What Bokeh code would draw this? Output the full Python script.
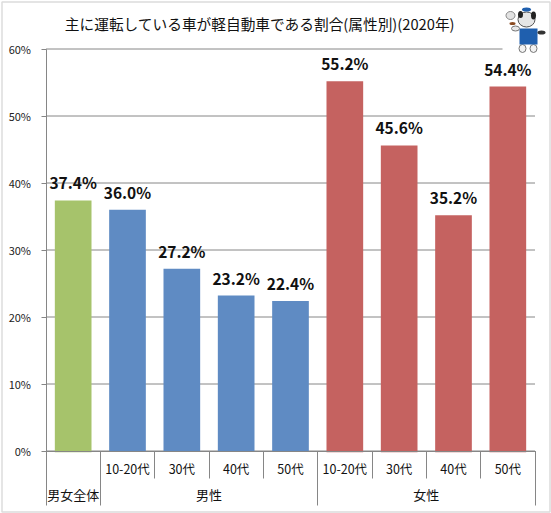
from bokeh.plotting import figure
from bokeh.embed import file_html
from bokeh.resources import INLINE
from bokeh.models import (ColumnDataSource, FixedTicker, LinearAxis, LabelSet, Label, Range1d, BoxAnnotation, PrintfTickFormatter)
from bokeh.core.properties import value

FONT = "Noto Sans CJK JP"
title_text = "主に運転している車が軽自動車である割合(属性別)(2020年)"
categories = ["", "10-20代", "30代", "40代", "50代", "10-20代", "30代", "40代", "50代"]
values = [37.4, 36.0, 27.2, 23.2, 22.4, 55.2, 45.6, 35.2, 54.4]
bar_base = [-0.2, 0, 0, 0, 0, -0.2, -0.2, -0.2, -0.2]
colors = ["#A6C36B", "#5F8BC3", "#5F8BC3", "#5F8BC3", "#5F8BC3", "#C56260", "#C56260", "#C56260", "#C56260"]
groups = ["男女全体", "男性", "女性"]
group_pos = [0.5, 3.0, 7.0]
y_ticks = [0, 10, 20, 30, 40, 50, 60]
GRAY = "#868686"

W, H = 551, 513
X0, X1, Y60, Y0 = 45.5, 534.5, 48.5, 450.5
ux = (X1 - X0) / 9
uy = (Y0 - Y60) / 60
px = lambda x: (x - X0) / ux
py = lambda y: (Y0 - y) / uy

p = figure(width=W, height=H, output_backend="svg", toolbar_location=None,
           x_range=Range1d(px(0), px(W)), y_range=Range1d(py(H), py(0)),
           min_border=0, outline_line_color=None, x_axis_type=None, y_axis_type=None)
p.border_fill_color = "white"
p.xgrid.visible = False
p.ygrid.visible = False

p.segment(x0=[0] * 7, x1=[9] * 7, y0=y_ticks, y1=y_ticks, line_color=GRAY, line_width=1)

src = ColumnDataSource(dict(x=[i + 0.5 for i in range(9)], v=values, b=bar_base, c=colors, cat=categories,
                            lab=[f"{v:.1f}%" for v in values]))
p.vbar(x="x", top="v", bottom="b", width=0.675, fill_color="c", line_color=None, source=src)

yax = LinearAxis(ticker=FixedTicker(ticks=y_ticks), formatter=PrintfTickFormatter(format="%d%%"),
                 fixed_location=0, bounds=(0, 60))
yax.axis_line_color = GRAY; yax.major_tick_line_color = GRAY
yax.major_tick_in = 0; yax.major_tick_out = 5; yax.minor_tick_line_color = None
yax.major_label_text_font = FONT; yax.major_label_text_font_size = "11px"; yax.major_label_text_color = "#222222"
yax.major_label_standoff = 10
p.add_layout(yax, "left")

def xaxis(ticks, out, labels=None, standoff=0, size="11px"):
    ax = LinearAxis(ticker=FixedTicker(ticks=ticks), fixed_location=0, bounds=(0, 9))
    ax.axis_line_color = GRAY
    ax.major_tick_line_color = GRAY if out else None
    ax.major_tick_in = 0; ax.major_tick_out = out; ax.minor_tick_line_color = None
    ax.major_label_text_font = FONT; ax.major_label_text_font_size = size; ax.major_label_text_color = "#111111"
    ax.major_label_standoff = standoff
    ax.major_label_overrides = labels if labels else {t: "" for t in ticks}
    p.add_layout(ax, "below")

xaxis([2, 3, 4, 6, 7, 8], 27)
xaxis([0, 1, 5, 9], 54)
xaxis([i + 0.5 for i in range(9)], 0, {i + 0.5: c for i, c in enumerate(categories)}, 8, "12.5px")
xaxis(group_pos, 0, dict(zip(group_pos, groups)), 34, "13px")

p.add_layout(LabelSet(x="x", y="v", text="lab", source=src, text_align="center", text_baseline="bottom",
                      y_offset=7, text_font=value(FONT), text_font_style="bold", text_font_size="15.5px",
                      text_color="#111111"))
p.add_layout(Label(x=px(259.5), y=py(22.5), text=title_text, text_align="center", text_baseline="middle",
                   text_font=FONT, text_font_size="14.7px", text_color="#111111"))

# outer frame of the picture
p.add_layout(BoxAnnotation(left=px(1.5), right=px(549.5), top=py(1.5), bottom=py(511.5), fill_alpha=0,
                           line_color="#8c8c8c", line_width=1.5))

# mascot at the top right (decoration)
def quad(l, r, t, b, c):
    p.quad(left=[px(l)], right=[px(r)], top=[py(t)], bottom=[py(b)], fill_color=c, line_color=None)
def ell(x, y, w, h, c, lc=None):
    p.ellipse(x=[px(x)], y=[py(y)], width=[w / ux], height=[h / uy], fill_color=c, line_color=lc)
quad(502, 547, 5, 56, "white")
ell(510, 15, 9, 8, "#e2e2e2", "#888888")
ell(522, 48, 7, 8, "#f2f2f2", "#777777")
ell(533, 48, 7, 8, "#f2f2f2", "#777777")
quad(519, 537, 28, 44, "#1F5FAE")
ell(541, 32, 8, 4, "#333333")
ell(515, 28, 8, 5, "#e8e8e8", "#777777")
ell(512, 23, 6, 3, "#8a4a20")
ell(526, 19, 17, 15, "#e6e6e6", "#555555")
ell(520, 14, 5, 7, "#222222")
ell(533, 15, 5, 8, "#222222")
ell(526, 9, 9, 4, "#1F5FAE")

open("out.html", "w").write(file_html(p, INLINE))
